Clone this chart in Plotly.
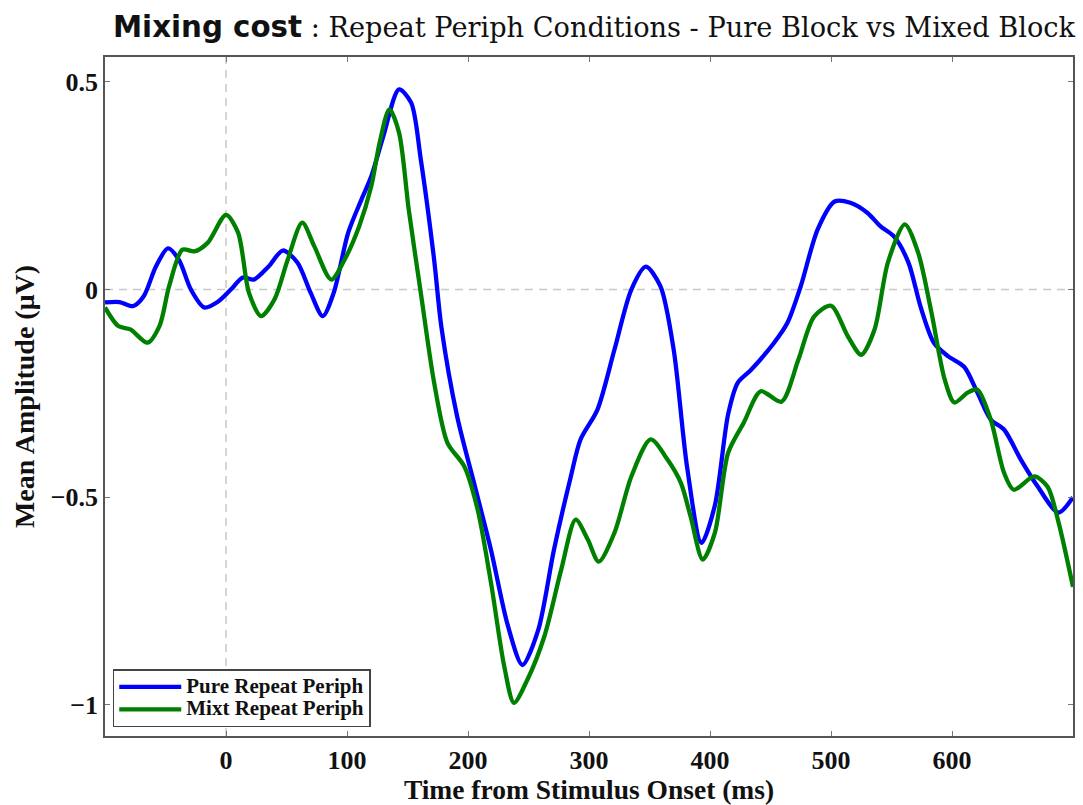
import plotly.graph_objects as go

# Time axis (ms from stimulus onset) and mean amplitudes (µV)
pure_t = [-100, -88, -77, -68, -58, -48, -39, -29, -18, -7, 4, 14, 23, 35, 47, 59, 70, 80, 89,
          101, 112, 120, 130, 143, 153, 161, 172, 178, 191, 205, 219, 233, 245, 258, 271, 285,
          293, 307, 321, 335, 347, 359, 370, 381, 393, 404, 415, 423, 434, 453, 464, 475, 489,
          503, 516, 530, 541, 552, 564, 574, 585, 597, 610, 621, 632, 643, 657, 671, 688, 700]
pure_v = [-0.031, -0.03, -0.04, -0.016, 0.055, 0.099, 0.072, 0.0, -0.043, -0.03, 0.0, 0.029,
          0.024, 0.055, 0.094, 0.065, -0.008, -0.064, -0.008, 0.137, 0.217, 0.272, 0.369, 0.482,
          0.45, 0.313, 0.072, -0.09, -0.305, -0.466, -0.627, -0.81, -0.904, -0.82, -0.627,
          -0.45, -0.361, -0.289, -0.145, 0.0, 0.055, 0.008, -0.145, -0.426, -0.61, -0.52, -0.3,
          -0.224, -0.193, -0.128, -0.08, 0.008, 0.145, 0.212, 0.209, 0.185, 0.152, 0.128, 0.065,
          -0.041, -0.128, -0.161, -0.186, -0.248, -0.313, -0.337, -0.41, -0.475, -0.537, -0.5]

mixt_t = [-100, -89, -79, -65, -55, -47, -36, -26, -15, 0, 10, 19, 29, 40, 51, 63, 73, 87, 98,
          110, 120, 127, 135, 143, 151, 161, 172, 183, 197, 208, 219, 230, 238, 249, 263, 277,
          289, 299, 308, 321, 335, 351, 365, 376, 384, 394, 404, 415, 428, 442, 459, 473, 486,
          500, 514, 525, 536, 547, 561, 572, 583, 594, 602, 613, 621, 632, 643, 651, 668, 679,
          688, 700]
mixt_v = [-0.043, -0.088, -0.096, -0.128, -0.088, 0.008, 0.096, 0.092, 0.113, 0.18, 0.137,
          -0.008, -0.064, -0.024, 0.072, 0.161, 0.104, 0.024, 0.072, 0.152, 0.248, 0.354, 0.434,
          0.378, 0.193, -0.008, -0.224, -0.369, -0.426, -0.53, -0.706, -0.908, -0.995, -0.94,
          -0.836, -0.675, -0.554, -0.602, -0.655, -0.586, -0.45, -0.361, -0.41, -0.466, -0.547,
          -0.65, -0.586, -0.393, -0.32, -0.245, -0.27, -0.169, -0.065, -0.039, -0.113, -0.157,
          -0.096, 0.065, 0.157, 0.089, -0.055, -0.217, -0.272, -0.248, -0.241, -0.313, -0.441,
          -0.482, -0.45, -0.475, -0.56, -0.716]

x_ticks = [0, 100, 200, 300, 400, 500, 600]
y_ticks = [-1, -0.5, 0, 0.5]
y_tick_text = ["\u22121", "\u22120.5", "0", "0.5"]

SERIF = "Liberation Serif, Times New Roman, serif"


def legend_label(text):
    return f"<span style='font-size:21px'><b>{text}</b></span>"


fig = go.Figure()
fig.add_trace(go.Scatter(x=pure_t, y=pure_v, mode="lines", name=legend_label("Pure Repeat Periph"),
                         line=dict(color="rgb(0,0,255)", width=4.3, shape="spline", smoothing=0.8)))
fig.add_trace(go.Scatter(x=mixt_t, y=mixt_v, mode="lines", name=legend_label("Mixt Repeat Periph"),
                         line=dict(color="rgb(0,128,0)", width=4.3, shape="spline", smoothing=0.8)))

# Zero reference lines
fig.add_shape(type="line", xref="x", yref="paper", x0=0, x1=0, y0=0, y1=1,
              line=dict(color="#c8c8c8", width=1.5, dash="8px,6px"), layer="below")
fig.add_shape(type="line", xref="paper", yref="y", x0=0, x1=1, y0=0, y1=0,
              line=dict(color="#c8c8c8", width=1.5, dash="8px,6px"), layer="below")

axis_common = dict(showline=True, linecolor="#555555", linewidth=1.5, mirror="allticks",
                   ticks="inside", ticklen=5, tickcolor="#777777", showgrid=False,
                   zeroline=False, automargin=False,
                   tickfont=dict(family=SERIF, size=26, color="#111111"))

fig.update_xaxes(range=[-100, 700], tickvals=x_ticks,
                 ticktext=[f"<b>{v}</b>" for v in x_ticks],
                 title=dict(text="<b>Time from Stimulus Onset (ms)</b>",
                            font=dict(family=SERIF, size=27.5, color="#111111"), standoff=4),
                 **axis_common)
fig.update_yaxes(range=[-1.075, 0.56], tickvals=y_ticks,
                 ticktext=[f"<b>{t}</b>" for t in y_tick_text],
                 title=dict(text="<b>Mean Amplitude (\u03bcV)</b>",
                            font=dict(family=SERIF, size=28, color="#111111"), standoff=8),
                 **axis_common)

fig.update_layout(
    width=1083, height=805,
    margin=dict(l=105, r=10, t=57, b=69),
    paper_bgcolor="white", plot_bgcolor="white",
    title=dict(
        text="<b>Mixing cost</b><span style=\"font-family:'DejaVu Serif', serif; font-size:27.2px\"> : Repeat Periph Conditions - Pure Block vs Mixed Block</span>",
        font=dict(family="DejaVu Sans, sans-serif", size=29.3, color="#111111"),
        x=594 / 1083, xanchor="center", xref="container",
        y=1 - 27 / 805, yanchor="middle", yref="container"),
    legend=dict(x=0.008, y=0.013, xanchor="left", yanchor="bottom",
                bgcolor="white", bordercolor="#444444", borderwidth=1.5,
                font=dict(family=SERIF, size=15, color="#111111"),
                itemwidth=62, tracegroupgap=0),
    showlegend=True,
)

fig.write_html("out.html")
